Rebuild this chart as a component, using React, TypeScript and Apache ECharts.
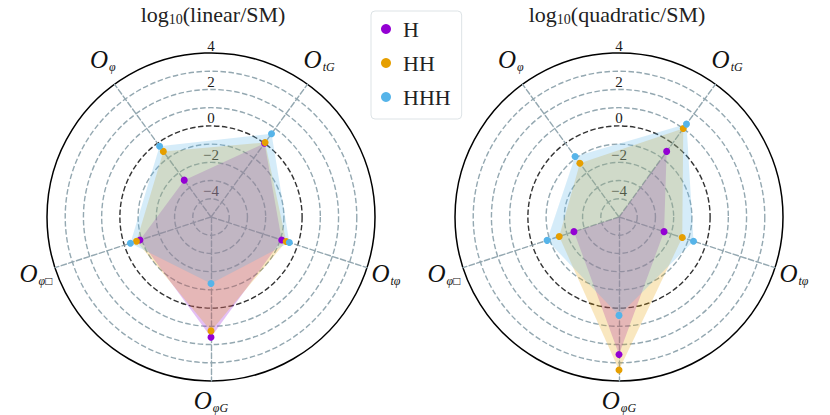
import React, { useEffect, useRef } from 'react';
import * as echarts from 'echarts';

// Indicators, laid out counter-clockwise starting at 54 degrees
const indicatorNames = ['{o|O}{s|tG}\n{e| }', '{o|O}{s|φ}\n{e| }', '{o|O}{s|φ□}', '{o|O}{s|φG}', '{o|O}{s|tφ}'];
const seriesNames = ['H', 'HH', 'HHH'];
const seriesColors = ['#9400D3', '#E69F00', '#56B4E9'];

// log10(linear/SM)
const linearH = [0.0, -2.5, -0.9, 1.6, -0.92];
const linearHH = [0.05, -0.55, -0.7, 1.25, -0.66];
const linearHHH = [0.65, -0.2, -0.35, -1.35, -0.48];

// log10(quadratic/SM)  (H at O_phi lies below the plotted range)
const quadH = [-0.55, -5.5, -2.4, 2.55, -2.4];
const quadHH = [1.0, -1.35, -1.55, 3.4, -1.35];
const quadHHH = [1.3, -0.9, -0.85, 0.4, -0.7];

const radialTicks = [-4, -2, 0, 2, 4];
const rMin = -5;
const rMax = 4;

const titleWords = ['linear', 'quadratic'];

const FONT = '"Liberation Serif", "DejaVu Serif", serif';
const GRID = '#94a8b1';
const DASH = [5.5, 2.5];

function makeRadars(cx: number, cy: number) {
  const ringColors: string[] = [];
  for (let i = 0; i <= rMax - rMin; i++) {
    if (i === -rMin) ringColors.push('#333333');
    else if (i === rMax - rMin) ringColors.push('rgba(0,0,0,0)');
    else ringColors.push(GRID);
  }
  const outerColors: string[] = [];
  for (let i = 0; i <= rMax - rMin; i++) {
    outerColors.push(i === rMax - rMin ? '#000000' : 'rgba(0,0,0,0)');
  }
  const main = {
    center: [cx, cy],
    radius: 164,
    startAngle: 54,
    shape: 'circle',
    splitNumber: rMax - rMin,
    indicator: indicatorNames.map((n) => ({ name: n, min: rMin, max: rMax })),
    nameGap: 20,
    axisName: {
      color: '#111',
      fontFamily: FONT,
      align: 'center',
      verticalAlign: 'middle',
      rich: {
        o: { fontSize: 25, fontStyle: 'italic', fontFamily: FONT, color: '#111', lineHeight: 26, verticalAlign: 'top', padding: [0, 0, 5, 0] },
        s: { fontSize: 12, fontStyle: 'italic', fontFamily: FONT, color: '#111', lineHeight: 13, verticalAlign: 'bottom', padding: [0, 0, 0, 1] },
        e: { fontSize: 2, lineHeight: 16 },
      },
    },
    splitArea: { show: false },
    splitLine: { lineStyle: { color: ringColors, type: DASH, width: 1.4 } },
    axisLine: { lineStyle: { color: GRID, type: DASH, width: 1.4 } },
    axisTick: { show: false },
    axisLabel: { show: false },
  };
  const outer = {
    center: [cx, cy],
    radius: 164,
    startAngle: 90,
    shape: 'circle',
    splitNumber: rMax - rMin,
    indicator: [{ name: '', min: rMin, max: rMax }],
    axisName: { show: false },
    splitArea: { show: false },
    splitLine: { lineStyle: { color: outerColors, type: 'solid', width: 1.5 } },
    axisLine: { show: false },
    axisTick: { show: false },
    axisLabel: {
      show: true,
      margin: 0,
      align: 'center',
      verticalAlign: 'bottom',
      fontSize: 15,
      fontFamily: FONT,
      color: '#1a1a1a',
      formatter: (v: number) =>
        radialTicks.indexOf(Math.round(v)) >= 0 && Math.abs(v - Math.round(v)) < 1e-6
          ? (v < 0 ? '\u2212' + Math.abs(Math.round(v)) : String(Math.round(v)))
          : '',
    },
  };
  return [main, outer];
}

function makeSeries(radarIndex: number, values: number[][]) {
  const area = {
    type: 'radar',
    radarIndex,
    symbol: 'none',
    z: 2,
    data: values.map((v, i) => ({
      name: seriesNames[i],
      value: v.map((x) => Math.max(x, rMin)),
      itemStyle: { color: seriesColors[i] },
      lineStyle: { width: 0, opacity: 0 },
      areaStyle: { color: seriesColors[i], opacity: 0.25 },
    })),
  };
  // markers: values below the plotted range are off-scale and not drawn (pushed far outside the canvas)
  const dots = {
    type: 'radar',
    radarIndex,
    symbol: 'circle',
    symbolSize: 7,
    z: 3,
    data: values.map((v, i) => ({
      name: seriesNames[i],
      value: v.map((x) => (x < rMin ? 1e4 : x)),
      itemStyle: { color: seriesColors[i], borderWidth: 0 },
      lineStyle: { width: 0, opacity: 0 },
    })),
  };
  return [area, dots];
}

function titleText(cx: number, word: string) {
  return {
    type: 'text',
    x: cx,
    y: 15,
    style: {
      text: '{t|log}{s|10}{t|(' + word + '/SM)}',
      align: 'center',
      verticalAlign: 'middle',
      rich: {
        t: { fontSize: 22, fontFamily: FONT, fill: '#222', lineHeight: 23, verticalAlign: 'top', padding: [0, 0, 5, 0] },
        s: { fontSize: 14, fontFamily: FONT, fill: '#222', lineHeight: 14, verticalAlign: 'bottom' },
      },
    },
  };
}

export default function App() {
  const ref = useRef<HTMLDivElement>(null);
  useEffect(() => {
    if (!ref.current) return;
    const chart = echarts.init(ref.current, undefined, { renderer: 'svg' });
    const leftC = 211;
    const rightC = 619;
    const cy = 217;
    const option = {
      animation: false,
      backgroundColor: '#ffffff',
      radar: [...makeRadars(leftC, cy), ...makeRadars(rightC, cy)],
      legend: {
        data: seriesNames,
        orient: 'vertical',
        left: 371,
        top: 11,
        icon: 'circle',
        itemWidth: 10,
        itemHeight: 10,
        itemGap: 12,
        padding: [7, 11, 11, 10],
        borderColor: '#dde3e6',
        borderWidth: 1,
        borderRadius: 4,
        backgroundColor: 'rgba(255,255,255,0.8)',
        textStyle: { fontSize: 22, lineHeight: 22, fontFamily: FONT, color: '#222', padding: [0, 0, 0, 7] },
      },
      graphic: [titleText(213, titleWords[0]), titleText(617, titleWords[1])],
      series: [
        ...makeSeries(0, [linearH, linearHH, linearHHH]),
        ...makeSeries(2, [quadH, quadHH, quadHHH]),
      ],
    };
    chart.setOption(option as any);
    return () => chart.dispose();
  }, []);
  return (
    <div
      ref={ref}
      style={{ position: 'fixed', left: 0, top: 0, width: 830, height: 415 }}
    />
  );
}
